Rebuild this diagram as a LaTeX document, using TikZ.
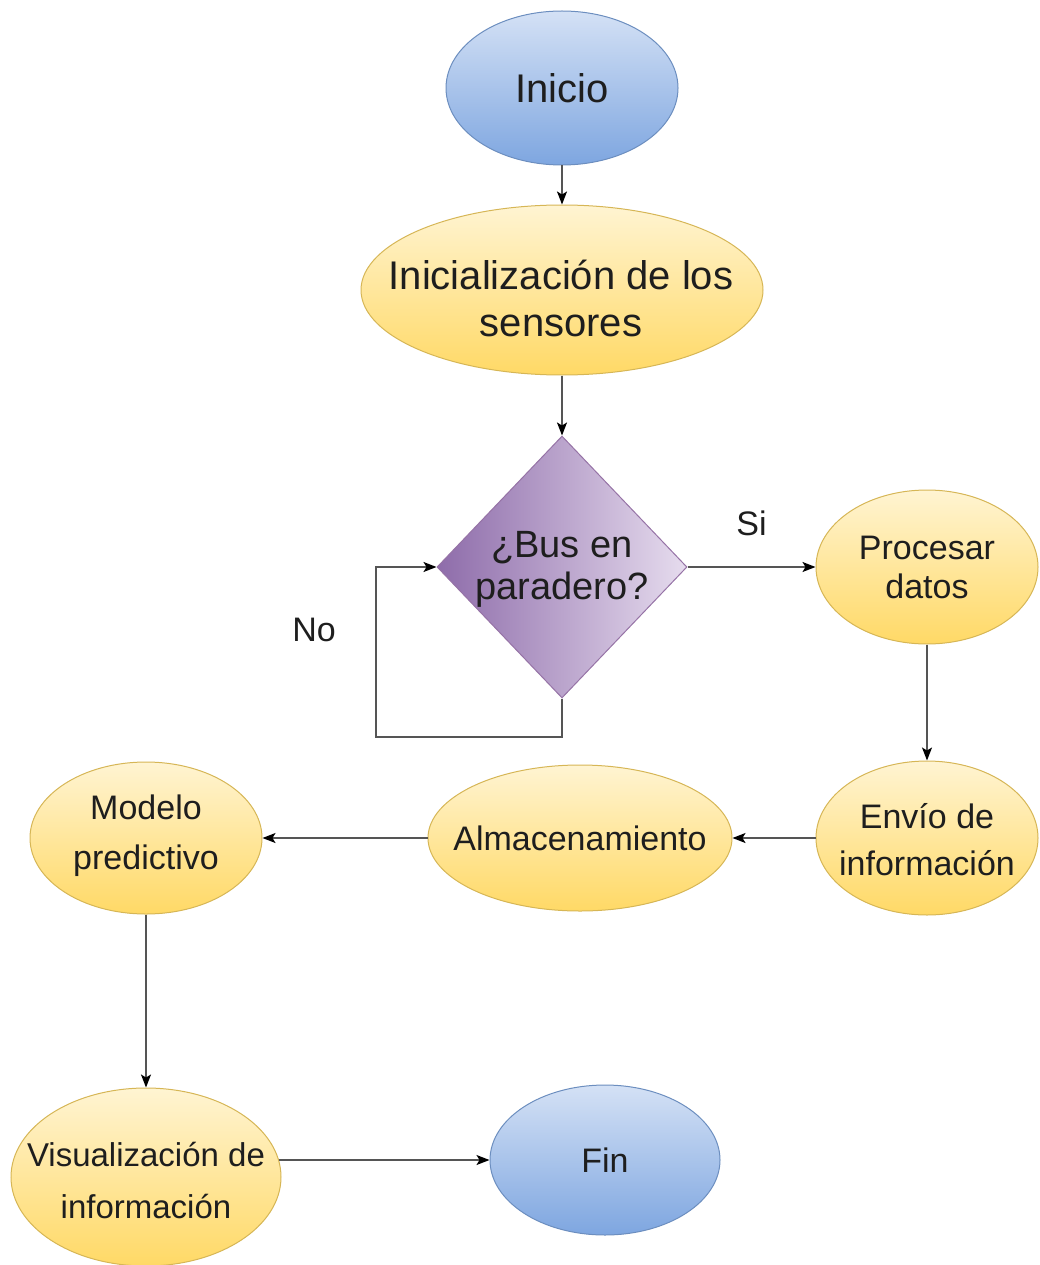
\documentclass[tikz,border=0pt]{standalone}
\usepackage{fontspec}
\setmainfont{Liberation Sans}
\usetikzlibrary{shapes.geometric,arrows.meta}

\definecolor{blueTop}{HTML}{D4E1F5}
\definecolor{blueBot}{HTML}{7EA6E0}
\definecolor{blueLine}{HTML}{6C8EBF}
\definecolor{yelTop}{HTML}{FFF4D2}
\definecolor{yelBot}{HTML}{FFD966}
\definecolor{yelLine}{HTML}{D6B656}
\definecolor{purLeft}{HTML}{8E6CAA}
\definecolor{purRight}{HTML}{E6DCEE}
\definecolor{purLine}{HTML}{9673A6}
\definecolor{conn}{HTML}{555555}
\definecolor{ink}{HTML}{1E1E1E}

\tikzset{
  terminal/.style={ellipse, draw=blueLine, line width=1pt, top color=blueTop, bottom color=blueBot, inner sep=0pt},
  process/.style={ellipse, draw=yelLine, line width=1pt, top color=yelTop, bottom color=yelBot, inner sep=0pt},
  decision/.style={diamond, draw=purLine, line width=1pt, left color=purLeft, right color=purRight, inner sep=0pt},
  txt/.style={text=ink, align=center, inner sep=0pt},
  arr/.style={draw=conn, line width=1.5pt, -{Stealth[length=13pt,width=10pt,inset=3pt,color=black]}},
  lbl/.style={text=ink, inner sep=0pt, font=\fontsize{34}{40}\selectfont}
}

\begin{document}
\begin{tikzpicture}[x=1pt,y=-1pt]
\useasboundingbox (0,0) rectangle (1039,1265);

% shapes
\node[terminal, minimum width=232pt, minimum height=154pt] (ini) at (562,88) {};
\node[process, minimum width=402pt, minimum height=170pt] (sen) at (562,290) {};
\node[decision, minimum width=250pt, minimum height=262pt] (dec) at (562,567) {};
\node[process, minimum width=222pt, minimum height=154pt] (pro) at (927,567) {};
\node[process, minimum width=222pt, minimum height=154pt] (env) at (927,838) {};
\node[process, minimum width=304pt, minimum height=146pt] (alm) at (580,838) {};
\node[process, minimum width=232pt, minimum height=152pt] (mod) at (146,838) {};
\node[process, minimum width=270pt, minimum height=178pt] (vis) at (146,1177) {};
\node[terminal, minimum width=230pt, minimum height=150pt] (fin) at (605,1160) {};

% texts
\node[txt, font=\fontsize{40}{47}\selectfont] (tini) at (ini) {Inicio};
\node[txt, font=\fontsize{40}{47}\selectfont] (tsen) at (561,298) {Inicialización de los\\sensores};
\node[txt, font=\fontsize{38}{42}\selectfont] (tdec) at (562,569) {¿Bus en\\paradero?};
\node[txt, font=\fontsize{34}{39}\selectfont] (tpro) at (pro) {Procesar\\datos};
\node[txt, font=\fontsize{34}{47}\selectfont] (tenv) at (927,840) {Envío de\\información};
\node[txt, font=\fontsize{34}{40}\selectfont] (talm) at (alm) {Almacenamiento};
\node[txt, font=\fontsize{34}{50}\selectfont] (tmod) at (146,836) {Modelo\\predictivo};
\node[txt, font=\fontsize{33}{52}\selectfont] (tvis) at (146,1180) {Visualización de\\información};
\node[txt, font=\fontsize{34}{40}\selectfont] (tfin) at (fin) {Fin};

% connectors
\coordinate (loop) at (376,737);
\draw[arr] (ini.south) -- (sen.north);
\draw[arr] (sen.south) -- (dec.north);
\draw[arr] (dec.east) -- (pro.west) node[lbl, midway, above=30pt] (si) {Si};
\draw[arr] (dec.south) |- (loop) |- (dec.west);
\node[lbl] (no) at (314,630) {No};
\draw[arr] (pro.south) -- (env.north);
\draw[arr] (env.west) -- (alm.east);
\draw[arr] (alm.west) -- (mod.east);
\draw[arr] (mod.south) -- (vis.north);
\draw[arr, shorten <=-3pt] (vis.east |- fin.west) -- (fin.west);
\end{tikzpicture}
\end{document}
